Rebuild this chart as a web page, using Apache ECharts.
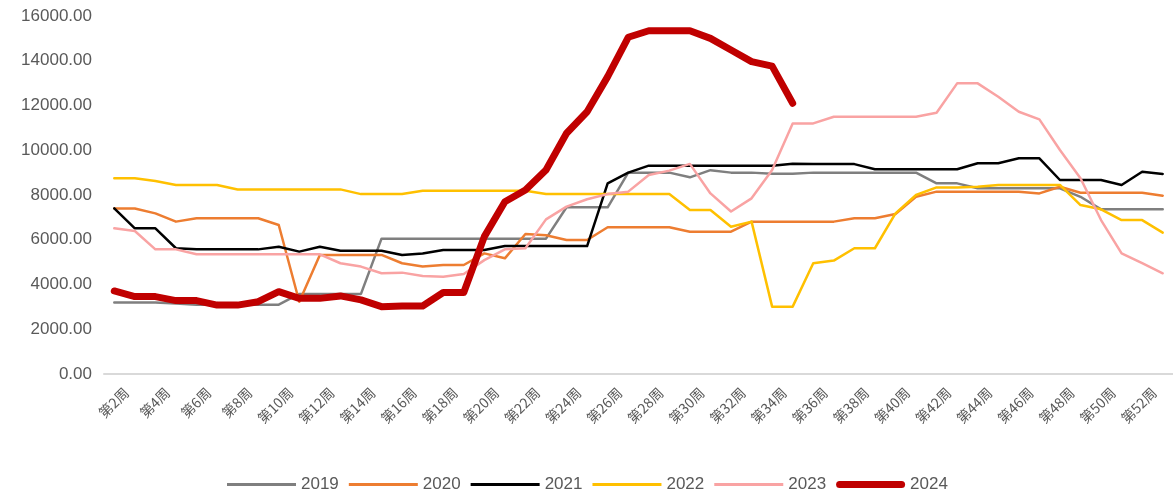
<!DOCTYPE html>
<html lang="zh">
<head>
    <meta charset="UTF-8">
    <title>周度价格</title>
    <script src="https://cdn.jsdelivr.net/npm/echarts@6/dist/echarts.min.js"></script>
    <style>
        html, body { margin: 0; padding: 0; background: #fff; }
        #main { width: 1173px; height: 490px; }
    </style>
</head>
<body>
<div id="main"></div>
<script type="text/javascript">
    // 周次：第2周 ~ 第53周
    var weeks = [];
    for (var w = 2; w <= 53; w++) weeks.push('第' + w + '周');

    var years = ['2019', '2020', '2021', '2022', '2023', '2024'];

    var s2019 = [3200, 3200, 3200, 3150, 3100, 3100, 3100, 3100, 3100, 3580, 3580, 3580, 3580, 6050, 6050, 6050,
        6050, 6050, 6050, 6050, 6050, 6050, 7450, 7450, 7450, 9000, 9000, 9000, 8790, 9110, 9000, 9000, 8950, 8950,
        9000, 9000, 9000, 9000, 9000, 9000, 8520, 8520, 8300, 8300, 8300, 8300, 8300, 7920, 7360, 7360, 7360, 7360];
    var s2020 = [7400, 7400, 7180, 6810, 6960, 6960, 6960, 6960, 6660, 3230, 5320, 5320, 5320, 5320, 4950, 4800,
        4870, 4870, 5390, 5170, 6260, 6200, 5990, 5990, 6560, 6560, 6560, 6560, 6360, 6360, 6360, 6810, 6810, 6810,
        6810, 6810, 6960, 6960, 7150, 7920, 8150, 8150, 8150, 8150, 8150, 8070, 8370, 8100, 8100, 8100, 8100, 7970];
    var s2021 = [7400, 6510, 6510, 5620, 5570, 5570, 5570, 5570, 5690, 5470, 5690, 5510, 5510, 5510, 5320, 5390,
        5540, 5540, 5540, 5720, 5720, 5720, 5720, 5720, 8520, 9000, 9310, 9310, 9310, 9310, 9310, 9310, 9310, 9400,
        9380, 9380, 9380, 9150, 9150, 9150, 9150, 9150, 9420, 9420, 9640, 9640, 8670, 8670, 8670, 8450, 9040, 8940];
    var s2022 = [8750, 8750, 8630, 8450, 8450, 8450, 8250, 8250, 8250, 8250, 8250, 8250, 8040, 8040, 8040, 8190,
        8190, 8190, 8190, 8190, 8190, 8040, 8040, 8040, 8040, 8040, 8040, 8040, 7330, 7330, 6580, 6810, 3010, 3010,
        4950, 5070, 5620, 5620, 7180, 8000, 8340, 8340, 8370, 8450, 8450, 8450, 8450, 7550, 7360, 6880, 6880, 6320];
    var s2023 = [6510, 6390, 5570, 5570, 5350, 5350, 5350, 5350, 5350, 5350, 5350, 4950, 4800, 4500, 4530, 4380,
        4350, 4470, 5090, 5570, 5620, 6910, 7480, 7810, 8040, 8150, 8890, 9090, 9390, 8070, 7260, 7850, 9120, 11200,
        11200, 11500, 11500, 11500, 11500, 11500, 11680, 12990, 12990, 12390, 11720, 11380, 10010, 8750, 6880, 5390,
        4950, 4500];
    var s2024 = [3710, 3460, 3460, 3280, 3280, 3080, 3080, 3230, 3680, 3380, 3380, 3490, 3310, 3010, 3040, 3040,
        3640, 3640, 6140, 7700, 8220, 9120, 10760, 11720, 13290, 15050, 15340, 15340, 15340, 15000, 14480, 13960,
        13760, 12100];

    var yTicks = [0, 2000, 4000, 6000, 8000, 10000, 12000, 14000, 16000];

    var seriesData = [s2019, s2020, s2021, s2022, s2023, s2024];
    var colors = ['#7f7f7f', '#ed7d31', '#000000', '#ffc000', '#f9a3a3', '#c00000'];
    var widths = [2.5, 2.5, 2.5, 2.5, 2.5, 7];

    var series = years.map(function (y, i) {
        return {
            name: y,
            type: 'line',
            data: seriesData[i],
            symbol: 'none',
            smooth: false,
            z: i === 5 ? 10 : 2,
            lineStyle: {color: colors[i], width: widths[i], cap: 'round', join: 'round'},
            itemStyle: {color: colors[i]}
        };
    });

    // 图例用细条/粗条代替默认的线+圆点
    var thinIcon = 'path://M0,0 L69,0 L69,3 L0,3 Z';
    var thickIcon = 'path://M3.5,0 L65.5,0 A3.5,3.5 0 0 1 65.5,7 L3.5,7 A3.5,3.5 0 0 1 3.5,0 Z';
    var legendData = years.map(function (y, i) {
        return {name: y, icon: i === 5 ? thickIcon : thinIcon};
    });

    var myChart = echarts.init(document.getElementById('main'));
    var option = {
        animation: false,
        backgroundColor: '#ffffff',
        textStyle: {fontFamily: 'Noto Sans CJK SC'},
        grid: {left: 104, right: -7, top: 16, bottom: 116, containLabel: false},
        legend: {
            data: legendData,
            left: 222,
            top: 471,
            itemWidth: 69,
            itemHeight: 14,
            itemGap: 10,
            textStyle: {color: '#595959', fontSize: 17, fontFamily: 'Liberation Sans'}
        },
        xAxis: {
            type: 'category',
            data: weeks,
            boundaryGap: true,
            axisLine: {lineStyle: {color: '#d9d9d9', width: 2}},
            axisTick: {show: false},
            axisLabel: {
                interval: 1,
                rotate: 45,
                color: '#595959',
                fontSize: 14,
                margin: 4,
                verticalAlign: 'top',
                padding: [10, 0, 0, 0]
            }
        },
        yAxis: {
            type: 'value',
            min: yTicks[0],
            max: yTicks[yTicks.length - 1],
            interval: 2000,
            axisLine: {show: false},
            axisTick: {show: false},
            splitLine: {show: false},
            axisLabel: {
                color: '#595959',
                fontSize: 17,
                fontFamily: 'Liberation Sans',
                margin: 12,
                formatter: function (v) {
                    return v.toFixed(2);
                }
            }
        },
        series: series
    };
    myChart.setOption(option);
</script>
</body>
</html>
